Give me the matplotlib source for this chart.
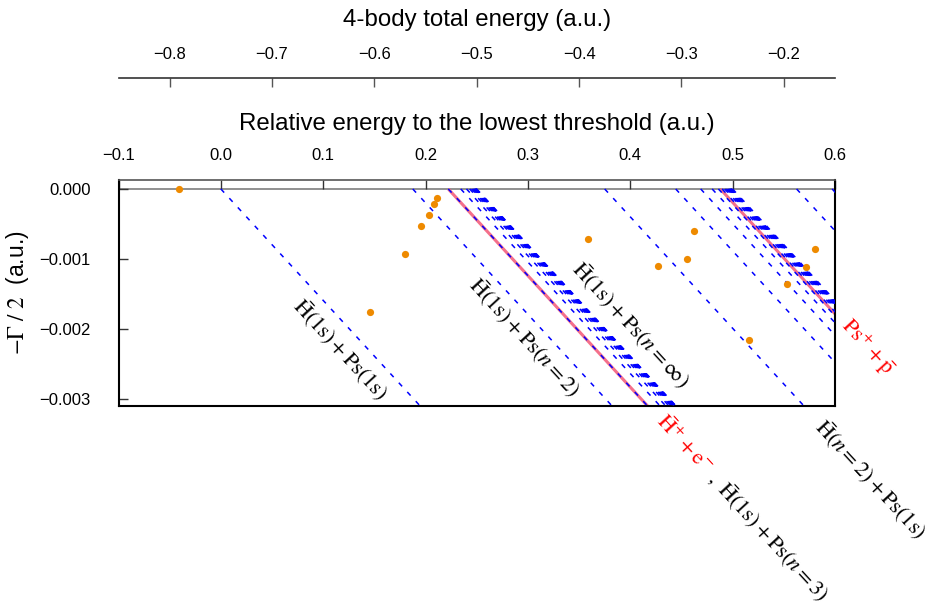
import numpy as np
import matplotlib
matplotlib.use("Agg")
import matplotlib.pyplot as plt
from matplotlib.ticker import FixedLocator, FuncFormatter

plt.rcParams['font.family'] = ['Liberation Sans', 'DejaVu Sans']
plt.rcParams['mathtext.fontset'] = 'stix'
plt.rcParams['axes.unicode_minus'] = True

# ---------------- data ----------------
# thresholds, relative energy (a.u.) to lowest threshold H(1s)+Ps(1s) = -0.75 a.u.
lowest_threshold = -0.75
thr_h1s_ps_n = [0.0, 0.1875, 0.2222, 0.2344, 0.2400, 0.2431, 0.2449, 0.2461, 0.2469,
                0.2475, 0.2479, 0.2483, 0.2485, 0.2487, 0.2489, 0.2490, 0.2491,
                0.2492, 0.2493, 0.2494, 0.2500]
thr_hn_ps_1s = [0.3750, 0.4444, 0.4688, 0.4800, 0.4861, 0.4898, 0.4922, 0.4938,
                0.4950, 0.4959, 0.4965, 0.4970, 0.4974, 0.4978, 0.4980, 0.4983,
                0.4985, 0.4986, 0.4988, 0.5000]
thr_other = [0.5625, 0.5972]
thr_red = [0.2222, 0.4880]          # Hbar+ + e-,  Ps+ + pbar
rotation_slope = 0.0159             # |dy/dx| of rotated continua

res_x = [-0.0413, 0.1454, 0.1796, 0.1955, 0.2037, 0.2083, 0.2115, 0.3591, 0.4275,
         0.4555, 0.4623, 0.5161, 0.5535, 0.5716, 0.5804]
res_y = [0.0000, -0.00176, -0.000923, -0.000524, -0.000367, -0.000218, -0.000124,
         -0.000713, -0.001094, -0.001003, -0.000603, -0.002158, -0.001355,
         -0.001108, -0.000856]

xticks_rel = [-0.1, 0.0, 0.1, 0.2, 0.3, 0.4, 0.5, 0.6]
xticks_tot = [-0.8, -0.7, -0.6, -0.5, -0.4, -0.3, -0.2]
yticks = [0.0, -0.001, -0.002, -0.003]

# ---------------- figure ----------------
W, H = 936, 608
fig = plt.figure(figsize=(W / 100, H / 100), dpi=100)

def fx(px):
    return px / W

def fy(py):
    return 1 - py / H

def fmt(nd):
    return FuncFormatter(lambda v, p: ('%.*f' % (nd, v)).replace('-', '\u2212'))

left_px, right_px, top_px, bot_px = 118.5, 835, 180, 406
ax = fig.add_axes([fx(left_px), fy(bot_px), fx(right_px - left_px), (bot_px - top_px) / H])
xmin, xmax = -0.1, 0.6
ymin, ymax = -0.003096, 0.000128
ax.set_xlim(xmin, xmax)
ax.set_ylim(ymin, ymax)

ax.axhline(0.0, color='#888888', lw=1.3, zorder=1)

blue_kw = dict(color='blue', lw=1.1, linestyle=(0, (3.2, 5.0)), zorder=3)
span = (0 - ymin) / rotation_slope * 1.05
for e in thr_red:
    ax.plot([e, e + span], [0, -rotation_slope * span], color='#f3607e', lw=2.2,
            alpha=0.9, zorder=2, solid_capstyle='butt')
for e in thr_h1s_ps_n + thr_hn_ps_1s + thr_other:
    ax.plot([e, e + span], [0, -rotation_slope * span], **blue_kw)

ax.plot(res_x, res_y, 'o', color='#ee8a00', ms=5.2, mec='none', zorder=4)

# axes styling
ax.xaxis.tick_top()
ax.xaxis.set_label_position('top')
ax.xaxis.set_major_locator(FixedLocator(xticks_rel))
ax.xaxis.set_major_formatter(fmt(1))
ax.yaxis.set_major_locator(FixedLocator(yticks))
ax.yaxis.set_major_formatter(fmt(3))
ax.tick_params(axis='x', direction='in', length=6.5, width=1.0, color='#333333',
               labelsize=12, pad=12)
ax.tick_params(axis='y', direction='in', length=6.5, width=1.0, color='#333333',
               labelsize=12, pad=20)
ax.set_xlabel('Relative energy to the lowest threshold (a.u.)', fontsize=17.3, labelpad=13.5)
ax.set_ylabel(r'$-\mathrm{\Gamma}\ /\ 2$  (a.u.)', fontsize=16.5, labelpad=6)
for s in ['left', 'right', 'bottom']:
    ax.spines[s].set_linewidth(1.5)
    ax.spines[s].set_color('black')
ax.spines['top'].set_linewidth(1.2)
ax.spines['top'].set_color('#555555')

# top axis: total energy
ax2 = fig.add_axes([fx(left_px), fy(78.3), fx(right_px - left_px), 0.0])
ax2.set_xlim(xmin + lowest_threshold, xmax + lowest_threshold)
ax2.set_ylim(0, 1)
ax2.patch.set_visible(False)
for s in ['left', 'right', 'bottom']:
    ax2.spines[s].set_visible(False)
ax2.spines['top'].set_linewidth(1.2)
ax2.spines['top'].set_color('#333333')
ax2.yaxis.set_visible(False)
ax2.xaxis.tick_top()
ax2.xaxis.set_label_position('top')
ax2.xaxis.set_major_locator(FixedLocator(xticks_tot))
ax2.xaxis.set_major_formatter(fmt(1))
ax2.tick_params(axis='x', direction='in', length=6.5, width=1.0, color='#555555',
                labelsize=12, pad=12)
ax2.set_xlabel('4-body total energy (a.u.)', fontsize=17.3, labelpad=14.5)

# labels along continua
ang = -47.4
tkw = dict(rotation=ang, rotation_mode='anchor', ha='center', va='center', fontsize=16)
fig.text(fx(340), fy(350), r'$\bar{\mathrm{H}}(1\mathrm{s})+\mathrm{Ps}(1\mathrm{s})$', **tkw)
fig.text(fx(524), fy(338), r'$\bar{\mathrm{H}}(1\mathrm{s})+\mathrm{Ps}(n=2)$', **tkw)
fig.text(fx(630), fy(325), r'$\bar{\mathrm{H}}(1\mathrm{s})+\mathrm{Ps}(n=\infty)$', **tkw)
fig.text(fx(870), fy(480), r'$\bar{\mathrm{H}}(n=2)+\mathrm{Ps}(1\mathrm{s})$', **tkw)
fig.text(fx(684), fy(444), r'$\bar{\mathrm{H}}^{+}+\mathrm{e}^{-}$', color='red', **tkw)
fig.text(fx(768), fy(537), r'$,\ \bar{\mathrm{H}}(1\mathrm{s})+\mathrm{Ps}(n=3)$', **tkw)
fig.text(fx(867), fy(347), r'$\mathrm{Ps}^{+}+\bar{\mathrm{p}}$', color='red', **tkw)

fig.savefig('out.png', dpi=100)
